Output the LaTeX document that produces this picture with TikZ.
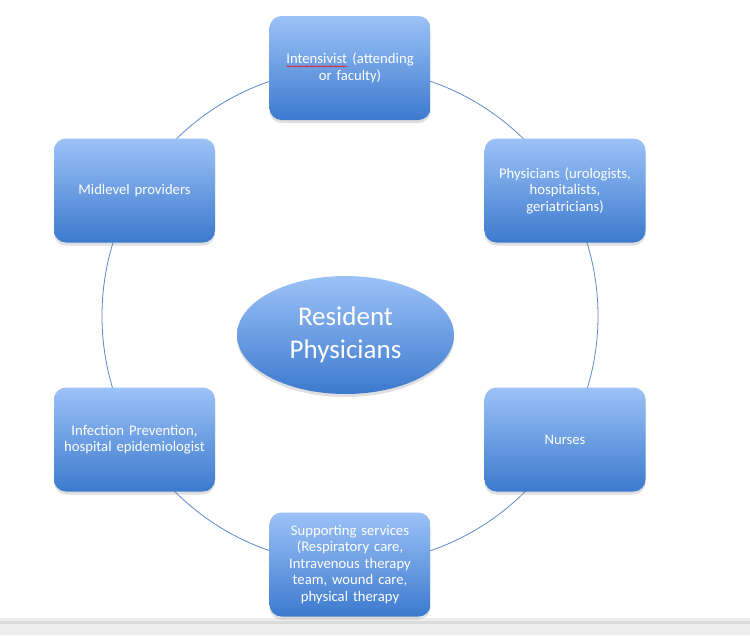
\documentclass[tikz,border=0pt]{standalone}
\usepackage{fontspec}
\setmainfont{Carlito}
\usetikzlibrary{shapes.geometric, shadows, decorations.pathmorphing}
\definecolor{boxTop}{RGB}{156,194,247}
\definecolor{boxBottom}{RGB}{60,122,206}
\definecolor{ringBlue}{RGB}{96,138,198}

% red spell-check wave under a word
\newcommand\spellmark[1]{\setbox0=\hbox{#1}\leavevmode\rlap{\copy0}\tikz[baseline=0pt, x=1pt, y=1pt, sharp corners]\draw[red, line width=0.45pt, sharp corners, decorate, decoration={snake, amplitude=0.6pt, segment length=2.4pt}] (0pt,-2.4pt) -- (\wd0,-2.4pt);}

\begin{document}
\begin{tikzpicture}[
    x=1pt, y=-1pt,
    role/.style={rounded corners=12pt, top color=boxTop, bottom color=boxBottom,
                 text=white, align=center, minimum width=161pt, minimum height=104pt,
                 text width=155pt, inner sep=0pt, font=\fontsize{14.7}{16.5}\selectfont,
                 drop shadow={shadow xshift=0pt, shadow yshift=-3pt, opacity=0.25}},
    hub/.style={ellipse, top color=boxTop, bottom color=boxBottom, text=white,
                align=center, minimum width=217pt, minimum height=118pt, inner sep=0pt,
                font=\fontsize{27}{33}\selectfont,
                drop shadow={shadow xshift=0pt, shadow yshift=-3pt, opacity=0.25}},
  ]
    \useasboundingbox (0,0) rectangle (750,635);
    \fill[white] (0,0) rectangle (750,635);
    % window bar at the bottom
    \fill[black!7] (0,618) rectangle (750,635);
    \fill[black!14] (0,621) rectangle (750,624);

    \coordinate (ctr) at (350,316);
    \draw[ringBlue, line width=0.8pt] (ctr) circle (248pt);

    \node[role] (intens) at (350,68) {\spellmark{Intensivist} (attending\\or faculty)};
    \node[role] (phys) at (565,190.5) {Physicians (urologists,\\hospitalists,\\geriatricians)};
    \node[role] (nurses) at (565,439.5) {Nurses};
    \node[role] (support) at (350,564.5) {Supporting services\\(Respiratory care,\\Intravenous therapy\\team, wound care,\\physical therapy};
    \node[role] (infect) at (134.5,439.5) {Infection Prevention,\\hospital epidemiologist};
    \node[role] (mid) at (134.5,190.5) {Midlevel providers};

    \node[hub] (res) at (345.5,335) {Resident\\Physicians};
  \end{tikzpicture}
\end{document}
